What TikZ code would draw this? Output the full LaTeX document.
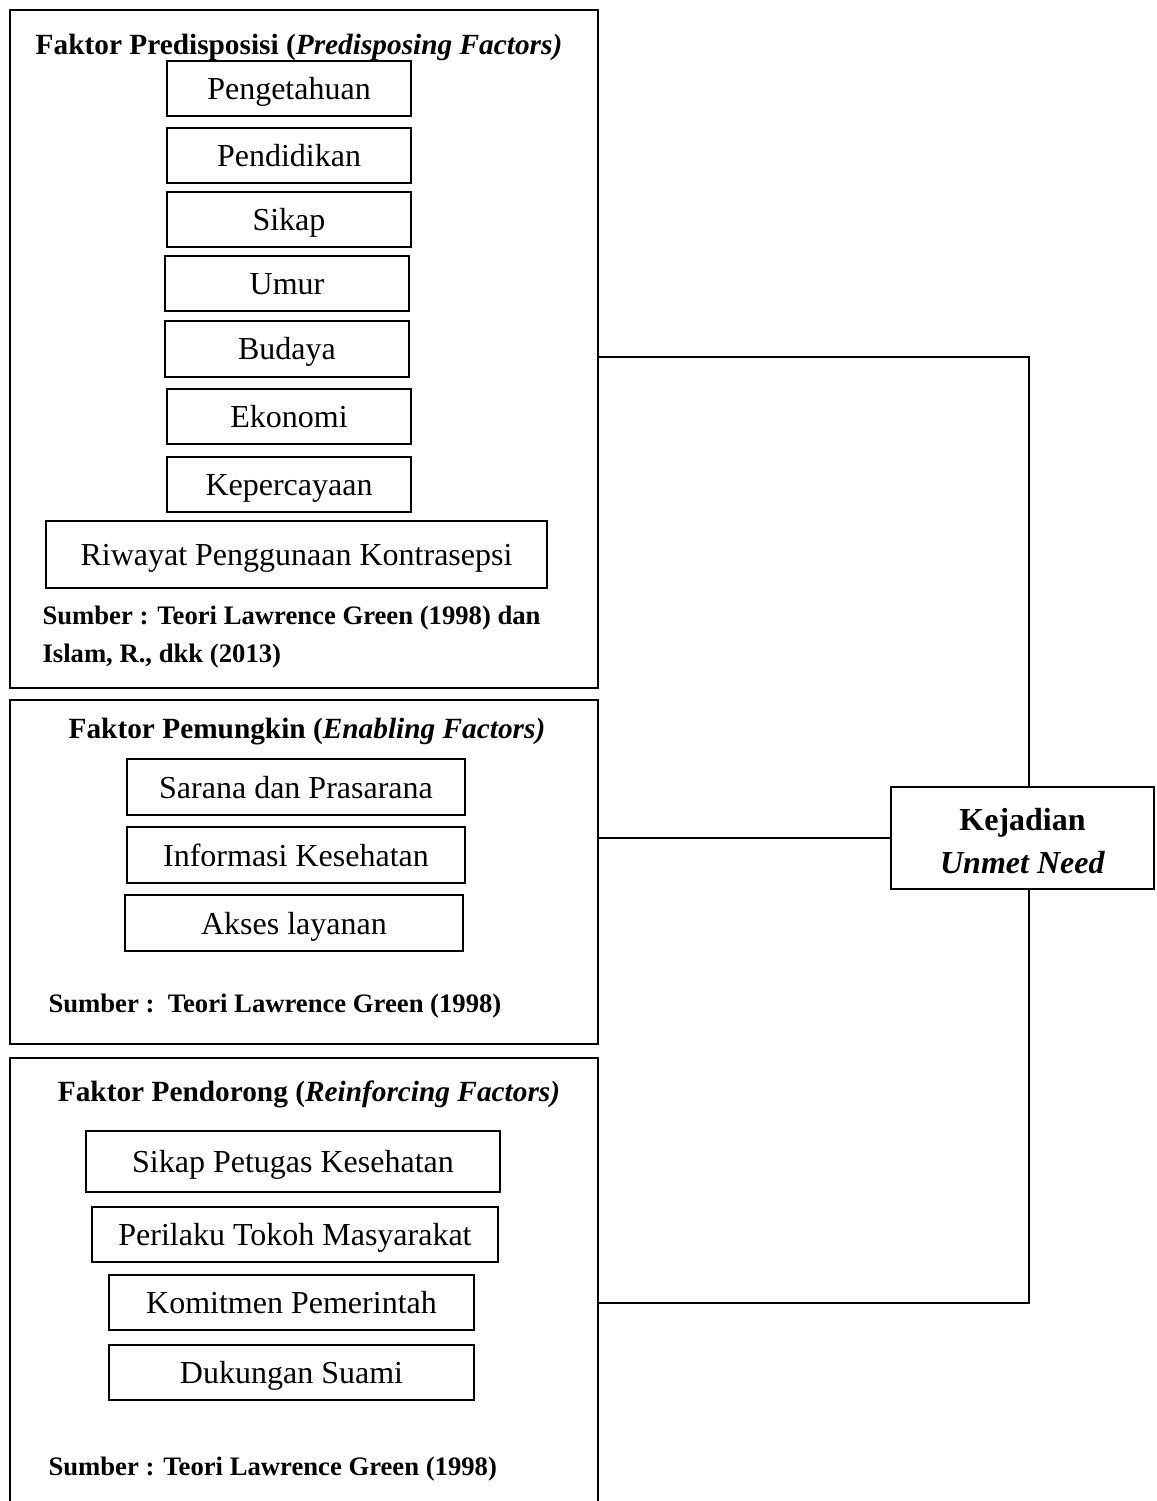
\documentclass[tikz,border=0pt,12pt]{standalone}
\usepackage{fontspec}
\setmainfont{Liberation Serif}
\newdimen\pxu \pxu=0.375pt

\begin{document}
\begin{tikzpicture}[x=0.375pt, y=-0.375pt,
    faktor/.style = {draw, line width=0.8pt, inner sep=0pt, minimum width=588\pxu},
    item/.style = {draw, line width=0.75pt, inner sep=0pt, minimum width=244\pxu, minimum height=55\pxu, text height=11pt, text depth=2.75pt},
    judul/.style = {font=\fontsize{11}{13}\selectfont\bfseries, inner sep=0pt},
    sumber/.style = {font=\fontsize{10}{14.25}\selectfont\bfseries, anchor=west, inner sep=0pt, align=left},
    hasil/.style = {draw, line width=0.8pt, inner sep=0pt, minimum width=263\pxu, minimum height=102\pxu, align=center, font=\bfseries},
    garis/.style = {line width=0.6pt}]
\useasboundingbox (0,0) rectangle (1156,1501);
\clip (0,0) rectangle (1156,1501);

% kotak faktor
\node[faktor, minimum height=678\pxu] (predis) at (304,349) {};
\node[faktor, minimum height=344\pxu] (pemung) at (304,872) {};
\node[faktor, minimum height=462\pxu] (pendor) at (304,1289) {};

% faktor predisposisi
\node[judul] (jdl1) at (299,47) {Faktor Predisposisi (\textit{Predisposing Factors)}};
\node[item] (tahu) at (289,89) {Pengetahuan};
\node[item] (didik) at (289,155.5) {Pendidikan};
\node[item] (sikap) at (289,219.5) {Sikap};
\node[item] (umur) at (287,283.5) {Umur};
\node[item, minimum height=56\pxu] (budaya) at (287,349) {Budaya};
\node[item] (ekon) at (289,416.5) {Ekonomi};
\node[item] (percaya) at (289,484.5) {Kepercayaan};
\node[item, minimum width=501\pxu, minimum height=67\pxu] (riwayat) at (296.5,554.5) {Riwayat Penggunaan Kontrasepsi};
\node[sumber] (smb1) at (42,637) {Sumber : Teori Lawrence Green (1998) dan\\Islam, R., dkk (2013)};

% faktor pemungkin
\node[judul] (jdl2) at (307,732) {Faktor Pemungkin (\textit{Enabling Factors)}};
\node[item, minimum width=338\pxu, minimum height=56\pxu] (sarana) at (296,787) {Sarana dan Prasarana};
\node[item, minimum width=338\pxu, minimum height=56\pxu] (info) at (296,855) {Informasi Kesehatan};
\node[item, minimum width=338\pxu, minimum height=56\pxu] (akses) at (294,923) {Akses layanan};
\node[sumber] (smb2) at (48,1006) {Sumber :\ \ Teori Lawrence Green (1998)};

% faktor pendorong
\node[judul] (jdl3) at (309,1094) {Faktor Pendorong (\textit{Reinforcing Factors)}};
\node[item, minimum width=414\pxu, minimum height=61\pxu] (petugas) at (293,1161.5) {Sikap Petugas Kesehatan};
\node[item, minimum width=406\pxu] (tokoh) at (295,1234.5) {Perilaku Tokoh Masyarakat};
\node[item, minimum width=365\pxu] (pemda) at (291.5,1302.5) {Komitmen Pemerintah};
\node[item, minimum width=365\pxu] (suami) at (291.5,1372.5) {Dukungan Suami};
\node[sumber] (smb3) at (48,1469) {Sumber : Teori Lawrence Green (1998)};

% hasil
\node[hasil] (kej) at (1022.5,838) {\rule{0pt}{10.5pt}Kejadian\\[1.5pt]\textit{Unmet Need}};

\draw[garis] ([yshift=-8\pxu]predis.east) -| ([xshift=6.5\pxu]kej.north);
\draw[garis] (pemung.east |- kej.west) -- (kej.west);
\draw[garis] ([yshift=-14\pxu]pendor.east) -| ([xshift=6.5\pxu]kej.south);
\end{tikzpicture}
\end{document}
